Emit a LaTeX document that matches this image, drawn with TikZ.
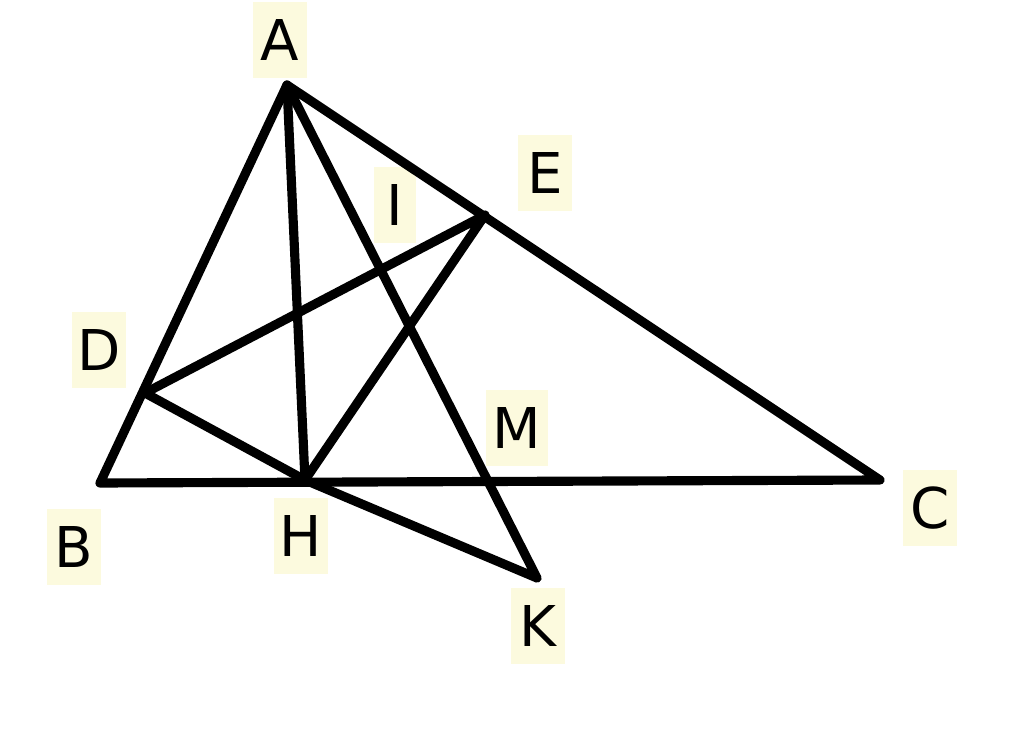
\documentclass[tikz,border=0pt]{standalone}
\usepackage{fontspec}
\setmainfont{DejaVu Sans}
\usepackage{tikz}
\usetikzlibrary{calc}
\definecolor{labelbg}{RGB}{252,250,222}
\tikzset{
  seg/.style={color=black, line width=2.6pt, line cap=round, line join=round},
  lab/.style={fill=labelbg, inner sep=0pt, minimum width=0.54cm, minimum height=0.76cm,
    font=\fontsize{16}{19}\selectfont}
}
\begin{document}
\begin{tikzpicture}

\useasboundingbox (0,0) rectangle (10.24,7.47);

\coordinate (A) at (2.87,6.62);
\coordinate (B) at (1.00,2.64);
\coordinate (C) at (8.80,2.67);
\coordinate (H) at (3.05,2.67);

\coordinate (D) at (1.45,3.54);
\coordinate (E) at (4.85,5.32);
\coordinate (K) at (5.37,1.69);

\node[lab] (lA) at (2.80,7.07) {A};
\node[lab] (lB) at (0.74,2.00) {B};
\node[lab] (lC) at (9.30,2.39) {C};
\node[lab] (lD) at (0.99,3.97) {D};
\node[lab] (lE) at (5.45,5.74) {E};
\node[lab] (lH) at (3.01,2.11) {H};
\node[lab, minimum width=0.42cm] (lI) at (3.95,5.42) {I};
\node[lab] (lK) at (5.38,1.21) {K};
\node[lab, minimum width=0.62cm] (lM) at (5.17,3.19) {M};

\draw[seg] (A) -- (B) -- (C) -- cycle;
\draw[seg] (A) -- (H);
\draw[seg] (A) -- (K);
\draw[seg] (D) -- (E) -- (H) -- cycle;
\draw[seg] (H) -- (K);

\end{tikzpicture}
\end{document}
